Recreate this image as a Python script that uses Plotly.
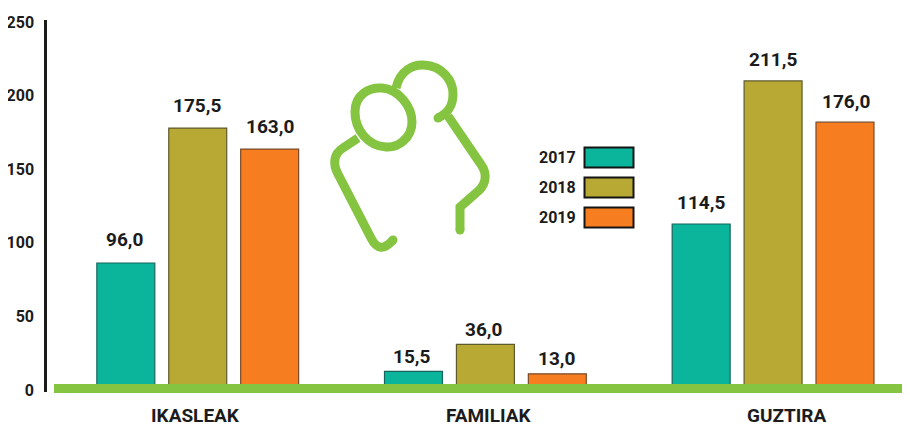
import plotly.graph_objects as go

categories = ["IKASLEAK", "FAMILIAK", "GUZTIRA"]
years = ["2017", "2018", "2019"]
bars_2017 = [86.3, 12.6, 112.8]
bars_2018 = [178.0, 31.0, 210.0]
bars_2019 = [163.7, 11.0, 182.0]
labels_2017 = ["96,0", "15,5", "114,5"]
labels_2018 = ["175,5", "36,0", "211,5"]
labels_2019 = ["163,0", "13,0", "176,0"]
y_ticks = [0, 50, 100, 150, 200, 250]

FILLS = ["#0ab59b", "#b7a934", "#f77e20"]
EDGES = ["#17645c", "#5f5a2c", "#7a4a28"]
GREEN = "#85c440"
INK = "#1b1b1b"
FONT = "Roboto"
# the page body has an 8px margin, so the figure is 8px smaller than the window
PAGE = 8
WIN_W, WIN_H = 910, 427
LEFT, TOP, BOTTOM = 47, 20, 392


def px(x):
    return (x - LEFT) / (WIN_W - LEFT)


def py(y):
    return (BOTTOM - y) / (BOTTOM - TOP)


fig = go.Figure()
series = [bars_2017, bars_2018, bars_2019]
for name, vals, fill, edge in zip(years, series, FILLS, EDGES):
    fig.add_bar(x=categories, y=vals, name=name,
                marker=dict(color=fill, line=dict(color=edge, width=1.2)))

shapes = []
annotations = []

# baseline band
shapes.append(dict(type="rect", xref="paper", yref="paper", layer="above",
                   x0=px(54), x1=1, y0=py(393), y1=py(384),
                   fillcolor=GREEN, line=dict(width=0)))

# value labels
group_gap = [23, 15, 21]
group_dx = [-1, -2, 0]
offsets = [-72, 0, 73]
label_sets = [labels_2017, labels_2018, labels_2019]
for vals, labs, dx in zip(series, label_sets, offsets):
    for i, (v, t) in enumerate(zip(vals, labs)):
        annotations.append(dict(x=categories[i], y=v, text=t, showarrow=False,
                                xshift=dx + group_dx[i], yshift=group_gap[i], yanchor="middle",
                                font=dict(family=FONT, size=19, color=INK, weight="bold")))

# category labels
cat_shift = [-2, 3, 14]
for c, dx in zip(categories, cat_shift):
    annotations.append(dict(x=c, y=0, text=c, showarrow=False, xshift=dx,
                            yref="y", yanchor="middle", yshift=-25.5,
                            font=dict(family=FONT, size=19, color=INK, weight="bold")))

# legend
for i, (yr, fill) in enumerate(zip(years, FILLS)):
    top = 147.5 + i * 30
    shapes.append(dict(type="rect", xref="paper", yref="paper",
                       x0=px(584.5), x1=px(633.5), y0=py(top + 20), y1=py(top),
                       fillcolor=fill, line=dict(color="#141414", width=2)))
    annotations.append(dict(xref="paper", yref="paper", x=px(578), y=py(top + 10),
                            xanchor="right", yanchor="middle", text=yr, showarrow=False,
                            font=dict(family=FONT, size=16, color=INK, weight="bold")))


# decorative pictogram, pixel-space path converted to paper fractions
def path(*cmds):
    out = []
    for c in cmds:
        letter, pts = c[0], c[1:]
        out.append(letter + " ".join(f"{px(p[0]):.5f},{py(p[1]):.5f}" for p in pts))
    return " ".join(out)


strokes = [
    # front head
    path(("M", (355, 112)),
         ("C", (355, 94), (370, 87), (382, 88)),
         ("C", (398, 89), (412, 106), (412, 122)),
         ("C", (412, 138), (398, 148), (386, 147)),
         ("C", (368, 146), (355, 130), (355, 112)),
         ("Z",)),
    # back head
    path(("M", (396, 88)),
         ("C", (400, 70), (414, 64), (424, 65)),
         ("C", (442, 66), (453, 80), (453, 94)),
         ("C", (453, 106), (448, 113), (438, 118))),
    # back body
    path(("M", (448, 116)), ("L", (480, 163)),
         ("C", (490, 176), (484, 187), (476, 193)),
         ("L", (460, 207)), ("L", (460, 230))),
    # front body
    path(("M", (358, 138)), ("L", (343, 148)),
         ("C", (333, 154), (333, 165), (338, 174)),
         ("L", (371, 238)),
         ("C", (377, 250), (384, 250), (393, 240))),
]
for s in strokes:
    shapes.append(dict(type="path", xref="paper", yref="paper", path=s,
                       line=dict(color=GREEN, width=9), layer="above"))
for cx, cy in [(438, 118), (460, 230), (393, 240)]:
    shapes.append(dict(type="circle", xref="paper", yref="paper",
                       x0=px(cx - 4.5), x1=px(cx + 4.5), y0=py(cy + 4.5), y1=py(cy - 4.5),
                       fillcolor=GREEN, line=dict(width=0)))

fig.update_layout(
    width=WIN_W - PAGE, height=WIN_H - PAGE,
    margin=dict(l=LEFT - PAGE, r=0, t=TOP - PAGE, b=WIN_H - BOTTOM),
    paper_bgcolor="white", plot_bgcolor="white", showlegend=False,
    barmode="group", bargap=0.25, bargroupgap=0.194,
    shapes=shapes, annotations=annotations,
    xaxis=dict(range=[-0.524, 2.476], showticklabels=False, showgrid=False,
               zeroline=False, showline=False, ticks="", automargin=False),
    yaxis=dict(range=[-1.36, 251.4], tickvals=y_ticks, showgrid=False, zeroline=False,
               showline=True, linecolor=INK, linewidth=2.5, automargin=False,
               ticks="outside", ticklen=7, tickcolor="rgba(0,0,0,0)",
               tickfont=dict(family=FONT, size=16, color=INK, weight="bold")),
)
fig.write_html("out.html")
